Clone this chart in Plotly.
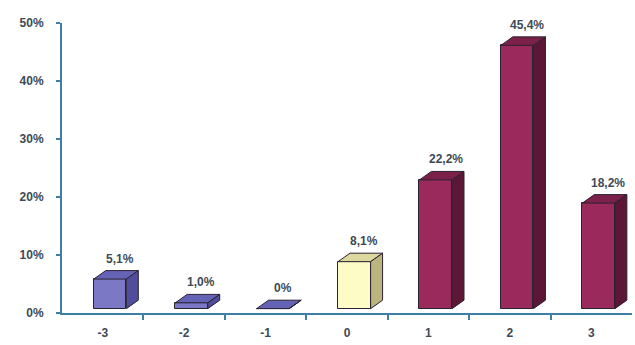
import plotly.graph_objects as go

# ---- data ----
categories = ["-3", "-2", "-1", "0", "1", "2", "3"]
values = [5.1, 1.0, 0.0, 8.1, 22.2, 45.4, 18.2]
value_labels = ["5,1%", "1,0%", "0%", "8,1%", "22,2%", "45,4%", "18,2%"]
y_ticks = [0, 10, 20, 30, 40, 50]
y_tick_labels = ["0%", "10%", "20%", "30%", "40%", "50%"]

# ---- style ----
FRONT = ["#7b79c6", "#7b79c6", "#7b79c6", "#fdfbc6", "#9a2a5c", "#9a2a5c", "#9a2a5c"]
TOP = ["#6563b6", "#6563b6", "#6563b6", "#ddd7a0", "#7b2049", "#7b2049", "#7b2049"]
SIDE = ["#4f4d9c", "#4f4d9c", "#4f4d9c", "#bcb47e", "#5c1736", "#5c1736", "#5c1736"]
EDGE = "#2a2230"
AXIS = "#3f7fa5"
TEXT = "#3e4a55"
W = 0.40      # front face width (category units)
OFF = -0.11   # front face left edge relative to category centre
DX = 0.147    # depth in x (category units)
DY = 1.46     # depth in y (percent units)
LIFT = 0.75   # floor lift of bar fronts (perspective)

xs = list(range(len(categories)))

fig = go.Figure()
fig.add_trace(go.Bar(
    x=xs, y=values, base=[LIFT] * len(values),
    width=W, offset=OFF,
    marker=dict(color=FRONT, line=dict(color=EDGE, width=1)),
    hoverinfo="skip", showlegend=False,
))

shapes = []
for i, v in enumerate(values):
    x0 = i + OFF
    x1 = x0 + W
    yb = LIFT
    yt = LIFT + v
    # top face
    shapes.append(dict(
        type="path", xref="x", yref="y",
        path=f"M {x0},{yt} L {x1},{yt} L {x1 + DX},{yt + DY} L {x0 + DX},{yt + DY} Z",
        fillcolor=TOP[i], line=dict(color=EDGE, width=1), layer="above",
    ))
    # side face
    shapes.append(dict(
        type="path", xref="x", yref="y",
        path=f"M {x1},{yb} L {x1 + DX},{yb + DY} L {x1 + DX},{yt + DY} L {x1},{yt} Z",
        fillcolor=SIDE[i], line=dict(color=EDGE, width=1), layer="above",
    ))

annotations = []
for i, (v, lab) in enumerate(zip(values, value_labels)):
    annotations.append(dict(
        x=i + 0.21, y=LIFT + v + DY, xref="x", yref="y",
        text=lab, showarrow=False, yanchor="middle", yshift=12,
        font=dict(family="Arial, Liberation Sans, sans-serif", size=12, color=TEXT, weight="bold"),
    ))

fig.update_layout(
    width=635, height=345,
    margin=dict(l=62, r=3, t=23, b=32),
    paper_bgcolor="white", plot_bgcolor="white",
    shapes=shapes, annotations=annotations,
    bargap=0,
    xaxis=dict(
        range=[-0.5, 6.5], tickvals=xs, ticktext=categories,
        showgrid=False, zeroline=False,
        showline=True, linecolor=AXIS, linewidth=2,
        ticks="", ticklabelstandoff=8,
        minor=dict(tickvals=[i + 0.5 for i in xs[:-1]], ticks="outside",
                   ticklen=5, tickcolor=AXIS, tickwidth=1.5, showgrid=False),
        tickfont=dict(family="Arial, Liberation Sans, sans-serif", size=12, color=TEXT, weight="bold"),
        fixedrange=True,
    ),
    yaxis=dict(
        range=[0, 50], tickvals=y_ticks, ticktext=y_tick_labels,
        showgrid=False, zeroline=False,
        showline=True, linecolor=AXIS, linewidth=2,
        ticks="outside", ticklen=4, tickcolor=AXIS, tickwidth=1.5,
        ticklabelstandoff=10,
        tickfont=dict(family="Arial, Liberation Sans, sans-serif", size=12, color=TEXT, weight="bold"),
        fixedrange=True,
    ),
)

fig.write_html("out.html", config={"displayModeBar": False})
